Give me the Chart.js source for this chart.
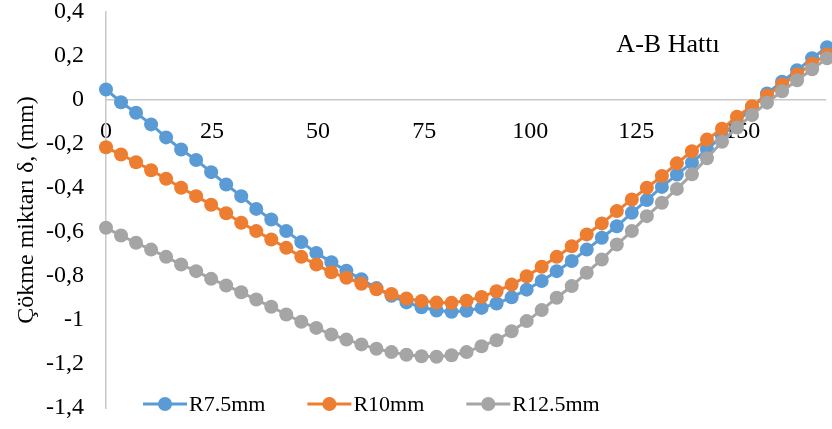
<!DOCTYPE html>
<html>
<head>
<meta charset="utf-8">
<script src="https://cdn.jsdelivr.net/npm/chart.js@4.4.1/dist/chart.umd.min.js"></script>
<style>
  body { margin: 0; background: #fff; }
  canvas { display: block; }
</style>
</head>
<body>
<canvas id="settlement-chart" width="832" height="429"></canvas>
<script>
// distance along the A-B line
const distance = [0, 3.54, 7.08, 10.63, 14.17, 17.71, 21.25, 24.79, 28.33, 31.88, 35.42, 38.96,
    42.5, 46.04, 49.58, 53.13, 56.67, 60.21, 63.75, 67.29, 70.83, 74.38, 77.92, 81.46,
    85, 88.54, 92.08, 95.63, 99.17, 102.71, 106.25, 109.79, 113.33, 116.88, 120.42, 123.96,
    127.5, 131.04, 134.58, 138.13, 141.67, 145.21, 148.75, 152.29, 155.83, 159.38, 162.92, 166.46, 170];

const r75 = [0.048, -0.01, -0.058, -0.111, -0.17, -0.225, -0.273, -0.328, -0.384, -0.437,
    -0.495, -0.543, -0.596, -0.646, -0.695, -0.737, -0.776, -0.815, -0.855, -0.89,
    -0.92, -0.942, -0.957, -0.963, -0.958, -0.945, -0.925, -0.897, -0.862, -0.823,
    -0.778, -0.732, -0.68, -0.626, -0.574, -0.513, -0.455, -0.395, -0.339, -0.285,
    -0.225, -0.163, -0.1, -0.035, 0.03, 0.083, 0.135, 0.19, 0.24];

const r10 = [-0.215, -0.248, -0.283, -0.319, -0.358, -0.399, -0.437, -0.476, -0.515, -0.558,
    -0.596, -0.634, -0.672, -0.713, -0.748, -0.783, -0.808, -0.835, -0.86, -0.882,
    -0.902, -0.914, -0.921, -0.922, -0.912, -0.895, -0.869, -0.839, -0.801, -0.758,
    -0.713, -0.665, -0.611, -0.561, -0.505, -0.452, -0.399, -0.346, -0.288, -0.233,
    -0.18, -0.131, -0.076, -0.028, 0.02, 0.07, 0.116, 0.165, 0.207];

const r125 = [-0.581, -0.616, -0.649, -0.68, -0.713, -0.748, -0.778, -0.813, -0.843, -0.874,
    -0.907, -0.94, -0.975, -1.008, -1.036, -1.066, -1.089, -1.111, -1.131, -1.146,
    -1.158, -1.165, -1.167, -1.16, -1.146, -1.119, -1.092, -1.051, -1.005, -0.955,
    -0.899, -0.846, -0.785, -0.725, -0.657, -0.596, -0.528, -0.467, -0.404, -0.338,
    -0.265, -0.19, -0.125, -0.068, -0.012, 0.04, 0.09, 0.14, 0.19];

const seriesNames = ['R7.5mm', 'R10mm', 'R12.5mm'];
const seriesColors = ['#5B9BD5', '#ED7D31', '#A5A5A5'];

const xTickValues = [0, 25, 50, 75, 100, 125, 150];
const yTickValues = [-1.4, -1.2, -1, -0.8, -0.6, -0.4, -0.2, 0, 0.2, 0.4];
const yTickLabels = ['-1,4', '-1,2', '-1', '-0,8', '-0,6', '-0,4', '-0,2', '0', '0,2', '0,4'];

const FONT = 'Liberation Serif, Times New Roman, serif';
const MARKER = 7;

function toPoints(values) {
    return values.map((v, i) => ({ x: distance[i], y: v }));
}

function makeDataset(idx, values) {
    return {
        label: seriesNames[idx],
        data: toPoints(values),
        borderColor: seriesColors[idx],
        backgroundColor: seriesColors[idx],
        borderWidth: 3,
        pointRadius: MARKER,
        pointBorderWidth: 0,
        pointHoverRadius: MARKER,
        tension: 0,
        clip: false,
        order: 3 - idx
    };
}

// title text inside the plot and legend overlaid at the bottom
const overlayPlugin = {
    id: 'overlay',
    afterDraw(chart) {
        const ctx = chart.ctx;
        ctx.save();
        ctx.fillStyle = '#000';
        ctx.font = '26px ' + FONT;
        ctx.textAlign = 'center';
        ctx.textBaseline = 'middle';
        ctx.fillText('A-B Hattı', 668, 45);

        ctx.font = '22px ' + FONT;
        ctx.textAlign = 'left';
        let x = 143;
        const y = 404;
        seriesNames.forEach((name, i) => {
            ctx.strokeStyle = seriesColors[i];
            ctx.fillStyle = seriesColors[i];
            ctx.lineWidth = 3;
            ctx.beginPath();
            ctx.moveTo(x, y);
            ctx.lineTo(x + 44, y);
            ctx.stroke();
            ctx.beginPath();
            ctx.arc(x + 22, y, MARKER, 0, Math.PI * 2);
            ctx.fill();
            ctx.fillStyle = '#000';
            ctx.fillText(name, x + 46, y + 1);
            x += 46 + ctx.measureText(name).width + 42;
        });
        ctx.restore();
    }
};

const ctx = document.getElementById('settlement-chart').getContext('2d');
const chart = new Chart(ctx, {
    type: 'line',
    data: {
        datasets: [makeDataset(0, r75), makeDataset(1, r10), makeDataset(2, r125)]
    },
    options: {
        responsive: false,
        animation: false,
        layout: { padding: { top: 12, bottom: 21, left: 0, right: 0 } },
        plugins: {
            legend: { display: false },
            tooltip: { enabled: false }
        },
        scales: {
            x: {
                type: 'linear',
                position: { y: 0 },
                min: 0,
                max: 169.5,
                z: 1,
                afterBuildTicks: scale => {
                    scale.ticks = xTickValues.map(v => ({ value: v }));
                },
                afterFit: scale => {
                    scale.paddingLeft = 0;
                    scale.paddingRight = 0;
                    scale.paddingTop = 0;
                    scale.paddingBottom = 0;
                },
                grid: { display: false, drawTicks: false },
                border: { display: true, color: '#C8C8C8', width: 1.5 },
                ticks: {
                    padding: 17,
                    color: '#000',
                    font: { family: FONT, size: 24 },
                    maxRotation: 0,
                    autoSkip: false
                }
            },
            y: {
                type: 'linear',
                position: 'left',
                min: -1.4,
                max: 0.4,
                afterBuildTicks: scale => {
                    scale.ticks = yTickValues.map(v => ({ value: v }));
                },
                afterFit: scale => {
                    // keep the plot edge fixed and let the end labels overhang
                    scale.width = 106;
                    scale.paddingTop = 0;
                    scale.paddingBottom = 0;
                },
                grid: { display: false, drawTicks: false },
                border: { display: true, color: '#C8C8C8', width: 1.5 },
                ticks: {
                    padding: 22,
                    color: '#000',
                    font: { family: FONT, size: 24 },
                    autoSkip: false,
                    callback: (value, index) => yTickLabels[index]
                },
                title: {
                    display: true,
                    text: 'Çökme miktarı δ, (mm)',
                    color: '#000',
                    font: { family: FONT, size: 24 },
                    padding: { top: 12, bottom: 0 }
                }
            }
        }
    },
    plugins: [overlayPlugin]
});
</script>
</body>
</html>
